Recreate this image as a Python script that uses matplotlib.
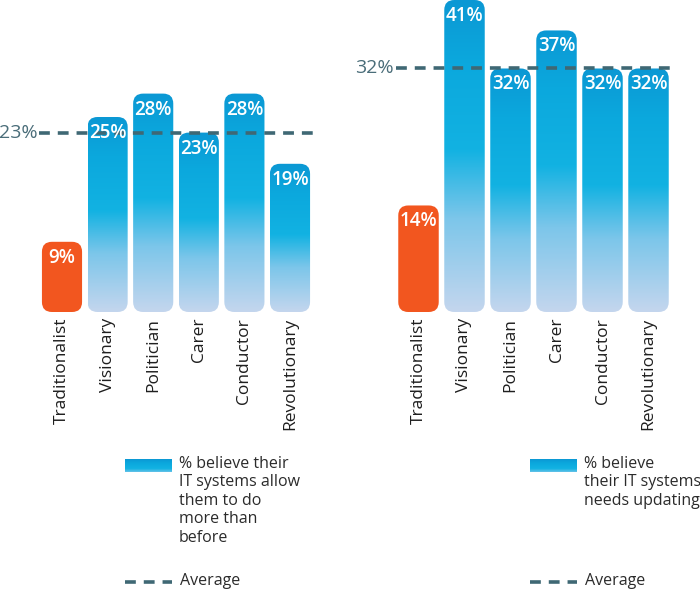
import numpy as np
import matplotlib
matplotlib.use("Agg")
import matplotlib.pyplot as plt
from matplotlib.colors import LinearSegmentedColormap
from matplotlib.patches import FancyBboxPatch

plt.rcParams['font.family'] = ['Open Sans', 'DejaVu Sans']

# data
categories = ['Traditionalist', 'Visionary', 'Politician', 'Carer', 'Conductor', 'Revolutionary']
left_values = [9, 25, 28, 23, 28, 19]
left_average = 23
right_values = [14, 41, 32, 37, 32, 32]
right_average = 32
left_legend = '% believe their\nIT systems allow\nthem to do\nmore than\nbefore'
right_legend = '% believe\ntheir IT systems\nneeds updating'

ORANGE = '#F2561F'
LINE = '#3F6874'
blue_cmap = LinearSegmentedColormap.from_list(
    'bar', [(0.0, '#C4D6EE'), (0.3, '#7CC6EA'), (0.52, '#12B2E2'),
            (0.8, '#0BA8DD'), (1.0, '#0C98D4')])
grad = np.linspace(0, 1, 256).reshape(-1, 1)

fig = plt.figure(figsize=(7, 6), dpi=100)


def draw_panel(ax, values, average, xlim, ylim, px_per_x, px_per_y):
    ax.set_xlim(*xlim)
    ax.set_ylim(*ylim)
    ax.axis('off')
    width = 0.88
    radius = 10 / px_per_x
    aspect = px_per_x / px_per_y
    for i, (cat, v) in enumerate(zip(categories, values)):
        patch = FancyBboxPatch((i - width / 2, 0), width, v,
                               boxstyle=f'round,pad=0,rounding_size={radius}',
                               mutation_aspect=aspect, transform=ax.transData,
                               facecolor=ORANGE if i == 0 else 'none',
                               edgecolor='none', zorder=2)
        ax.add_patch(patch)
        if i > 0:
            im = ax.imshow(grad, extent=[i - width / 2, i + width / 2, 0, v],
                           origin='lower', aspect='auto', cmap=blue_cmap, zorder=2)
            im.set_clip_path(patch)
        ax.text(i, v - 16 / px_per_y, f'{v}%', ha='center', va='center',
                color='white', fontsize=13.5, fontweight='semibold', zorder=4)
        ax.text(i, -6 / px_per_y, cat, rotation=90, ha='center', va='top',
                fontsize=12.5, color='#1E1E1E', clip_on=False)
    ax.plot([-0.5, len(values) - 0.5], [average, average], color=LINE, lw=2.6,
            dashes=(3, 2.2), zorder=3, clip_on=False)
    ax.text(-0.53, average, f'{average}%', ha='right', va='center',
            fontsize=14, color='#4A6D79', clip_on=False)
    ax.set_xlim(*xlim)
    ax.set_ylim(*ylim)


# left panel: bar centres every 45.6 px starting at 62 px, baseline at 312 px
ax1 = fig.add_axes([0, 0.48, 330 / 700, 0.52])
draw_panel(ax1, left_values, left_average, (-62 / 45.6, (330 - 62) / 45.6),
           (0, 40), 45.6, 312 / 40)

ax2 = fig.add_axes([340 / 700, 0.48, 360 / 700, 0.52])
draw_panel(ax2, right_values, right_average, ((340 - 418.5) / 46, (700 - 418.5) / 46),
           (0, 41), 46, 312 / 41)

# legends in pixel space
lg = fig.add_axes([0, 0, 1, 1], zorder=5)
lg.set_xlim(0, 700)
lg.set_ylim(600, 0)
lg.axis('off')
sw = np.linspace(1, 0.35, 64).reshape(-1, 1)
for x0, txt in [(125, left_legend), (530, right_legend)]:
    lg.imshow(sw, extent=[x0, x0 + 47, 472, 459], origin='upper', aspect='auto',
              cmap=blue_cmap, vmin=0, vmax=1)
    lg.text(x0 + 54, 456, txt, ha='left', va='top', fontsize=11.5,
            color='#2B2B2B', linespacing=1.2)
    lg.plot([x0, x0 + 47], [582, 582], color=LINE, lw=2.6, dashes=(3, 2.2))
    lg.text(x0 + 55, 581, 'Average', ha='left', va='center', fontsize=11.5,
            color='#2B2B2B')
lg.set_xlim(0, 700)
lg.set_ylim(600, 0)

fig.savefig('out.png', dpi=100)
